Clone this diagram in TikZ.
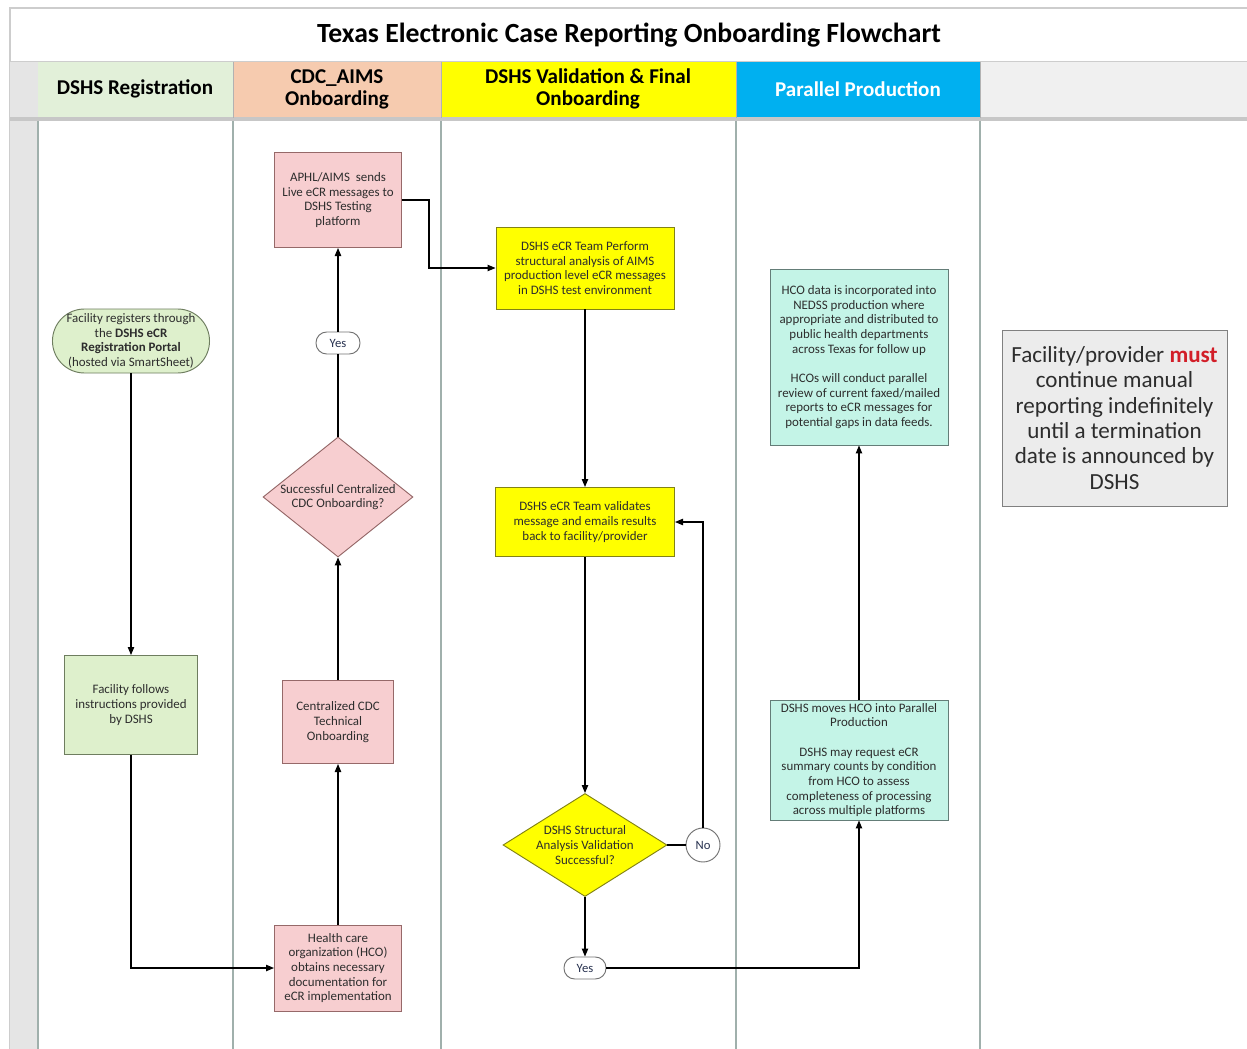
\documentclass[tikz,border=0pt]{standalone}
\usepackage{fontspec}
\setmainfont{Carlito}
\usetikzlibrary{arrows.meta,shapes.geometric}

\definecolor{regfill}{RGB}{222,240,204}
\definecolor{regdraw}{RGB}{110,125,95}
\definecolor{cdcfill}{RGB}{247,206,208}
\definecolor{cdcdraw}{RGB}{150,105,105}
\definecolor{valfill}{RGB}{255,255,0}
\definecolor{valdraw}{RGB}{130,130,20}
\definecolor{prodfill}{RGB}{196,244,231}
\definecolor{proddraw}{RGB}{100,125,120}
\definecolor{notefill}{RGB}{236,236,236}
\definecolor{hdrgreen}{RGB}{226,240,217}
\definecolor{hdrpeach}{RGB}{246,203,175}
\definecolor{hdrblue}{RGB}{0,176,240}
\definecolor{hdrgray}{RGB}{240,240,240}
\definecolor{lanegray}{RGB}{160,176,172}
\definecolor{framegray}{RGB}{205,205,205}
\definecolor{textgray}{RGB}{45,45,45}
\definecolor{answertext}{RGB}{40,50,80}
\definecolor{mustred}{RGB}{210,30,40}

\begin{document}
\begin{tikzpicture}[x=0.75pt,y=-0.75pt,
 boxtext/.style ={align=center,inner sep=1pt,text=textgray,font=\fontsize{9.7}{11}\selectfont},
 regbox/.style ={boxtext,fill=regfill,draw=regdraw,line width=0.7pt},
 cdcbox/.style ={boxtext,fill=cdcfill,draw=cdcdraw,line width=0.7pt},
 valbox/.style ={boxtext,fill=valfill,draw=valdraw,line width=0.7pt},
 prodbox/.style ={boxtext,fill=prodfill,draw=proddraw,line width=0.7pt},
 decision/.style ={diamond,inner sep=0pt,line width=0.7pt},
 answer/.style ={fill=white,draw=black!55,line width=0.7pt,text=answertext,inner sep=0pt,font=\fontsize{9.5}{10}\selectfont},
 flow/.style ={-{Triangle[length=6pt,width=4.8pt]},draw=black,line width=0.8pt},
 link/.style ={-,draw=black,line width=0.8pt},
 lane/.style ={-,draw=lanegray,line width=1.6pt},
 header/.style ={align=center,font=\fontsize{15.8}{16.5}\selectfont\bfseries}
 ]
\useasboundingbox (0,0) rectangle (1247,1049);
%draw frame and title
\fill[white] (0,0) rectangle (1247,1049);
\draw[framegray,line width=1pt] (10,1049) -- (10,8) -- (1250,8);
\draw[framegray,line width=1pt] (10,62) -- (1250,62);
\node[font=\fontsize{20.8}{22}\selectfont\bfseries] (title) at (629,35) {Texas Electronic Case Reporting Onboarding Flowchart};
%draw lane headers
\fill[black!10] (10,62) rectangle (38,1049);
\fill[hdrgreen] (38,62) rectangle (233,118);
\fill[hdrpeach] (233,62) rectangle (441,118);
\fill[valfill] (441,62) rectangle (736,118);
\fill[hdrblue] (736,62) rectangle (980,118);
\fill[hdrgray] (980,62) rectangle (1250,118);
\draw[black!22,line width=3pt] (10,119.5) -- (1250,119.5);
\node[header] (hreg) at (135,89) {DSHS Registration};
\node[header] (hcdc) at (337,89) {CDC\_AIMS\\Onboarding};
\node[header] (hval) at (588,89) {DSHS Validation \& Final\\Onboarding};
\node[header,white] (hprod) at (858,89) {Parallel Production};
%draw lane borders
\foreach \lx in {38,233,441,736,980}
  \draw[lane] (\lx,121) -- (\lx,1052);
\foreach \lx in {233,441,736,980}
  \draw[white!70!black,line width=0.5pt] (\lx,62) -- (\lx,118);
%draw registration lane
\node[regbox,rounded corners=24pt,minimum width=117.8pt,minimum height=48pt] (reg) at (131,341)
  {Facility registers through\\the \textbf{DSHS eCR}\\\textbf{Registration Portal}\\(hosted via SmartSheet)};
\node[regbox,minimum width=99.8pt,minimum height=74.3pt] (follow) at (131,705)
  {Facility follows\\instructions provided\\by DSHS};
%draw cdc lane
\node[cdcbox,minimum width=95.3pt,minimum height=64.5pt] (hco) at (338,968)
  {Health care\\organization (HCO)\\obtains necessary\\documentation for\\eCR implementation};
\node[cdcbox,minimum width=83.3pt,minimum height=62.3pt] (tech) at (338,722)
  {Centralized CDC\\Technical\\Onboarding};
\node[decision,fill=cdcfill,draw=cdcdraw,minimum width=112.5pt,minimum height=90pt,
  label={[boxtext]center:Successful Centralized\\CDC Onboarding?}] (cdcq) at (338,497) {};
\node[answer,rounded corners=8pt,minimum width=33pt,minimum height=16.5pt] (yes1) at (338,343) {Yes};
\node[cdcbox,minimum width=95.3pt,minimum height=71.3pt] (aphl) at (338,200)
  {APHL/AIMS~ sends\\Live eCR messages to\\DSHS Testing\\platform};
%draw validation lane
\node[valbox,minimum width=133.5pt,minimum height=61.5pt] (struct) at (585,268)
  {DSHS eCR Team Perform\\structural analysis of AIMS\\production level eCR messages\\in DSHS test environment};
\node[valbox,minimum width=134.3pt,minimum height=51.8pt] (valid) at (585,522)
  {DSHS eCR Team validates\\message and emails results\\back to facility/provider};
\node[decision,fill=valfill,draw=valdraw,minimum width=123pt,minimum height=77.3pt,
  label={[boxtext]center:DSHS Structural\\Analysis Validation\\Successful?}] (dshsq) at (585,845) {};
\node[answer,circle,minimum size=25.5pt] (no) at (703,845) {No};
\node[answer,rounded corners=8pt,minimum width=31.5pt,minimum height=16.5pt] (yes2) at (585,968) {Yes};
%draw production lane
\node[prodbox,minimum width=133.5pt,minimum height=90pt] (moves) at (859,760)
  {DSHS moves HCO into Parallel\\Production\\[11pt]DSHS may request eCR\\summary counts by condition\\from HCO to assess\\completeness of processing\\across multiple platforms};
\node[prodbox,minimum width=133.5pt,minimum height=132pt] (nedss) at (859,357)
  {HCO data is incorporated into\\NEDSS production where\\appropriate and distributed to\\public health departments\\across Texas for follow up\\[11pt]HCOs will conduct parallel\\review of current faxed/mailed\\reports to eCR messages for\\potential gaps in data feeds.};
%draw note
\node[boxtext,fill=notefill,draw=black!50,line width=0.7pt,minimum width=168.8pt,minimum height=132pt,
  font=\fontsize{17.3}{19}\selectfont] (note) at (1114.5,418)
  {Facility/provider \textcolor{mustred}{\textbf{must}}\\continue manual\\reporting indefinitely\\until a termination\\date is announced by\\DSHS};
%draw connectors
\draw[flow] (reg) -- (follow);
\draw[flow] (follow.south) |- (hco.west);
\draw[flow] (hco) -- (tech);
\draw[flow] (tech) -- (cdcq);
\draw[link] (cdcq) -- (yes1);
\draw[flow] (yes1) -- (aphl);
\draw[flow] (aphl.east) -- ++(27,0) |- (struct.west);
\draw[flow] (struct) -- (valid);
\draw[flow] (valid) -- (dshsq);
\draw[link] (dshsq) -- (no);
\draw[flow] (no.north) |- (valid.east);
\draw[flow] (dshsq) -- (yes2);
\draw[flow] (yes2.east) -| (moves.south);
\draw[flow] (moves) -- (nedss);
\end{tikzpicture}
\end{document}
